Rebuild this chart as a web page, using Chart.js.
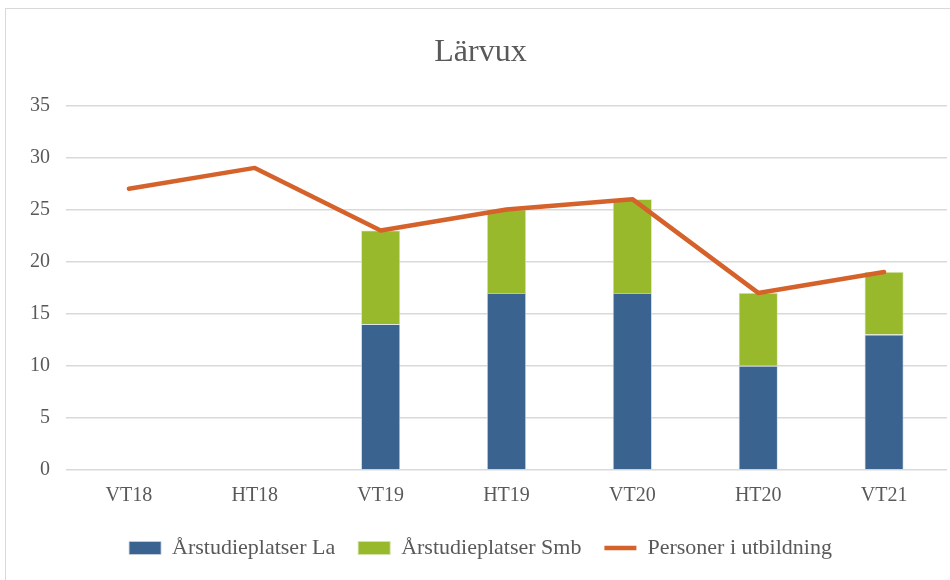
<!DOCTYPE html>
<html>
<head>
<meta charset="utf-8">
<script src="https://cdn.jsdelivr.net/npm/chart.js@4"></script>
<style>
  html, body { margin: 0; padding: 0; background: #fff; }
  #wrap {
    position: absolute; left: 5px; top: 8px;
    width: 950px; height: 580px;
    border: 1px solid #d9d9d9; box-sizing: border-box;
  }
  #chart { display: block; }
</style>
</head>
<body>
<div id="wrap"><canvas id="chart" width="945" height="572"></canvas></div>
<script>
// Lärvux - årsstudieplatser och personer i utbildning
const terms = ['VT18', 'HT18', 'VT19', 'HT19', 'VT20', 'HT20', 'VT21'];
const platserLa = [null, null, 14, 17, 17, 10, 13];
const platserSmb = [null, null, 9, 8, 9, 7, 6];
const personer = [27, 29, 23, 25, 26, 17, 19];

const serif = "'Liberation Serif', 'DejaVu Serif', serif";
const gray = '#595959';

const ctx = document.getElementById('chart');
new Chart(ctx, {
    data: {
        labels: terms,
        datasets: [
            {
                type: 'bar',
                label: 'Årstudieplatser La',
                data: platserLa,
                backgroundColor: '#3a638f',
                borderColor: '#c9d3df',
                borderWidth: 0.8,
                pointStyle: 'rect',
                stack: 's',
                order: 1
            },
            {
                type: 'bar',
                label: 'Årstudieplatser Smb',
                data: platserSmb,
                backgroundColor: '#98b92b',
                borderColor: '#d6e3a9',
                borderWidth: 0.8,
                pointStyle: 'rect',
                stack: 's',
                order: 1
            },
            {
                type: 'line',
                label: 'Personer i utbildning',
                data: personer,
                borderColor: '#d5622a',
                backgroundColor: '#d5622a',
                borderWidth: 4.5,
                borderCapStyle: 'round',
                borderJoinStyle: 'round',
                tension: 0,
                pointRadius: 0,
                pointStyle: 'line',
                order: 0
            }
        ]
    },
    options: {
        responsive: false,
        animation: false,
        categoryPercentage: 1,
        barPercentage: 0.31,
        layout: { padding: { left: 8, right: 4, top: 10, bottom: 12 } },
        plugins: {
            title: {
                display: true,
                text: 'Lärvux',
                color: gray,
                font: { family: serif, size: 32, weight: 'normal' },
                padding: { top: 14, bottom: 34 }
            },
            legend: {
                position: 'bottom',
                labels: {
                    color: gray,
                    font: { family: serif, size: 22 },
                    usePointStyle: true,
                    pointStyleWidth: 32,
                    boxHeight: 13,
                    padding: 23,
                    // keep dataset order (La, Smb, Personer) instead of draw order
                    sort: (a, b) => a.datasetIndex - b.datasetIndex
                }
            },
            tooltip: { enabled: false }
        },
        scales: {
            x: {
                stacked: true,
                grid: { display: false },
                border: { display: false },
                ticks: { color: gray, font: { family: serif, size: 20 }, padding: 6 }
            },
            y: {
                stacked: true,
                min: 0,
                max: 35,
                ticks: { stepSize: 5, color: gray, font: { family: serif, size: 20 }, padding: 16 },
                grid: { color: '#d9d9d9', lineWidth: 1.5, drawTicks: false },
                border: { display: false }
            }
        }
    }
});
</script>
</body>
</html>
